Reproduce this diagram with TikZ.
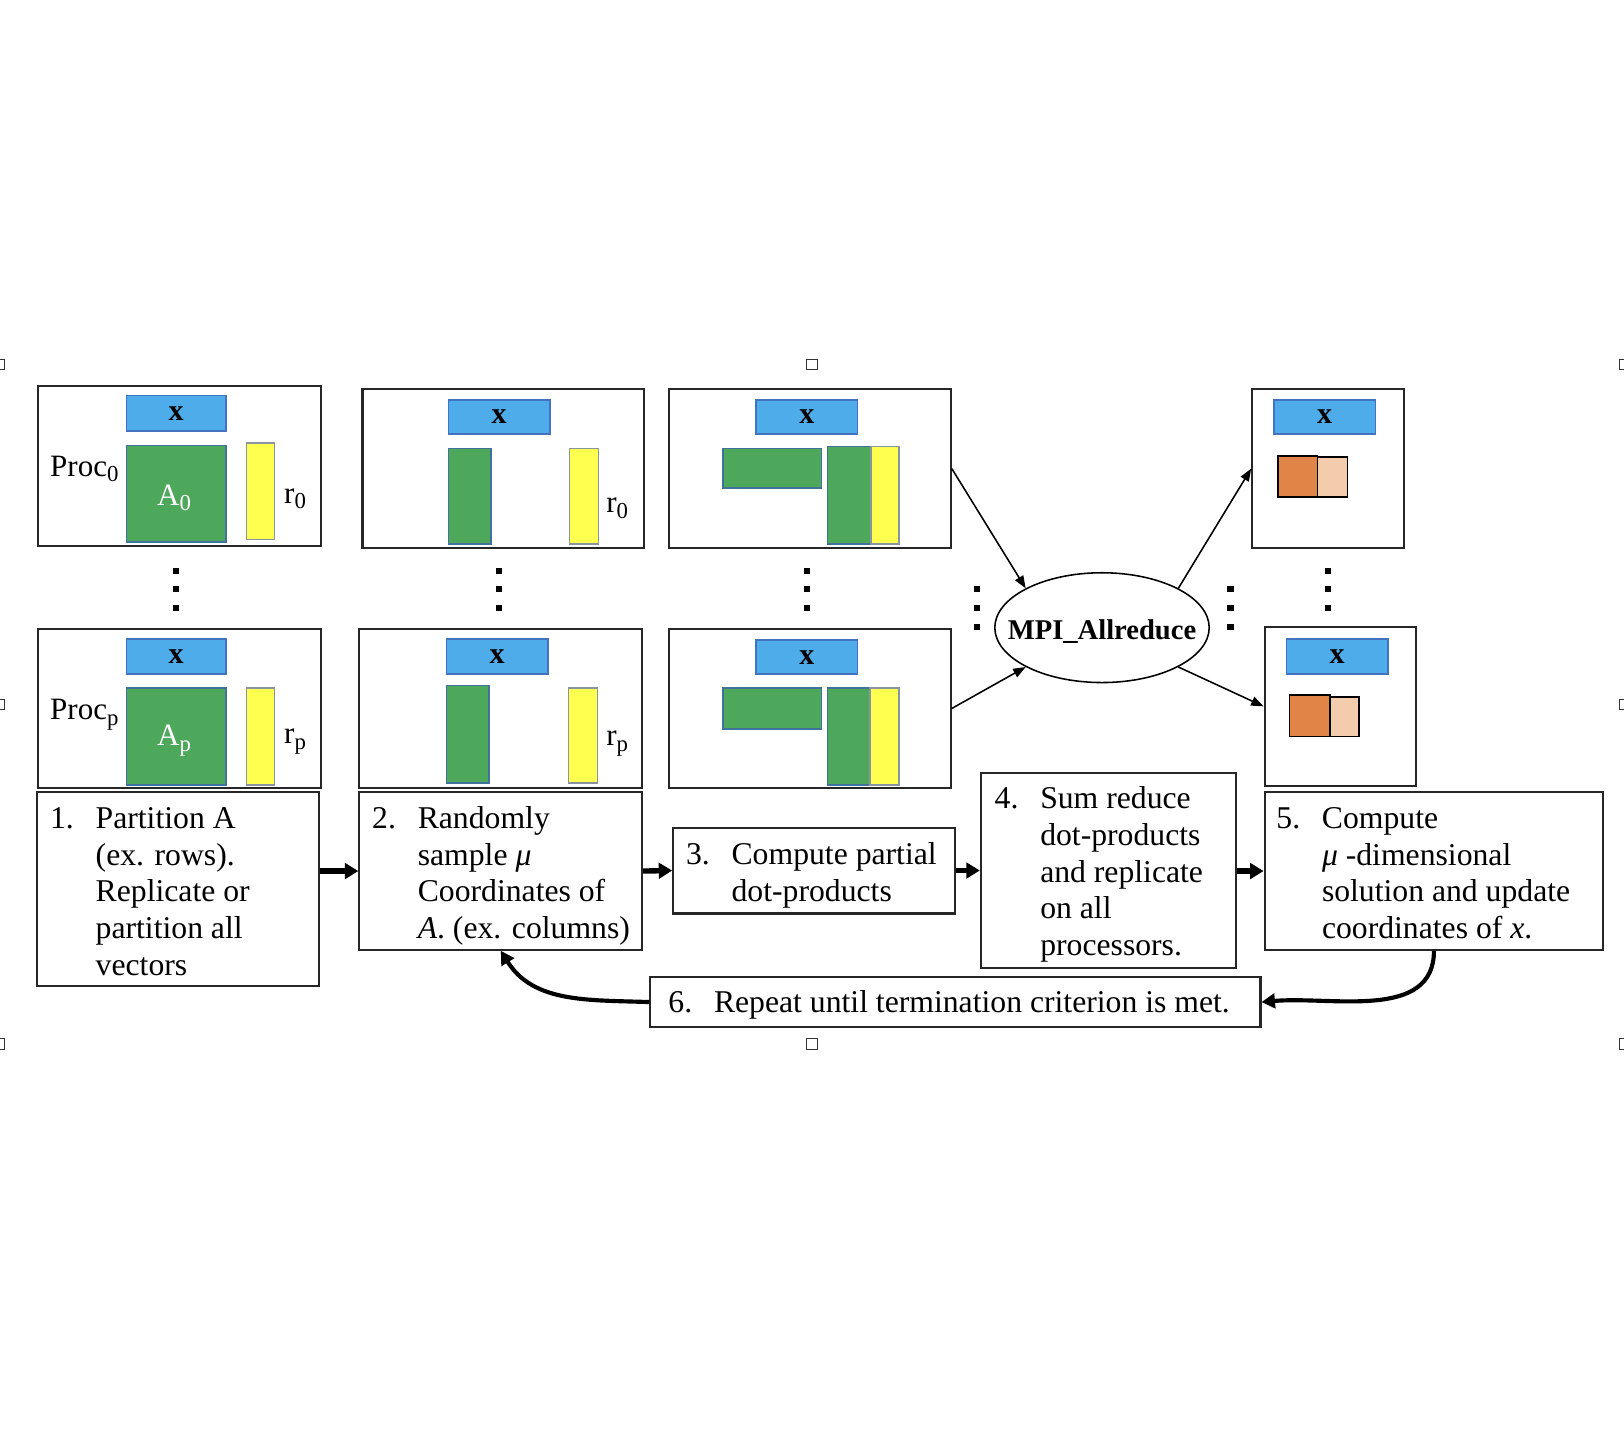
\documentclass[tikz,border=0pt]{standalone}
\usepackage{fontspec}
\setmainfont{Liberation Serif}
\usetikzlibrary{shapes.geometric,arrows.meta}
\definecolor{xblue}{HTML}{4DACE9}
\definecolor{xblueb}{HTML}{4372C0}
\definecolor{mgreen}{HTML}{4EA85B}
\definecolor{mgreenb}{HTML}{41729C}
\definecolor{myellow}{HTML}{FFFF50}
\definecolor{myellowb}{HTML}{8A93A0}
\definecolor{morange}{HTML}{E08448}
\definecolor{mpeach}{HTML}{F2CCAC}
\newcommand{\rectnode}[7][]{%
  \pgfmathsetmacro\rnw{(#5-#3)*0.5}%
  \pgfmathsetmacro\rnh{(#6-#4)*0.5}%
  \node[#1, minimum width=\rnw pt, minimum height=\rnh pt, inner sep=0pt] (#2) at ({(#3+#5)/2},{(#4+#6)/2}) {#7};%
}
\newcommand{\subs}[1]{\raisebox{-2.6pt}{\fontsize{11}{11}\selectfont #1}}
\newcommand{\steptext}[2]{\parbox[t]{320pt}{\fontsize{15.3}{17.7}\selectfont\hangindent=22pt\hangafter=1\noindent\makebox[22pt][l]{#1}#2}}
\tikzset{
  panel/.style={draw=black!85, line width=1pt, fill=white},
  stepbox/.style={draw=black!85, line width=1pt, fill=white},
  xbar/.style={fill=xblue, draw=xblueb, line width=0.8pt, font=\fontsize{14.5}{14.5}\selectfont\bfseries},
  gbox/.style={fill=mgreen, draw=mgreenb, line width=0.8pt},
  ybox/.style={fill=myellow, draw=myellowb, line width=0.8pt},
  obox/.style={fill=morange, draw=black, line width=0.8pt},
  pbox/.style={fill=mpeach, draw=black, line width=0.8pt},
  lbl/.style={inner sep=0pt, anchor=base west, font=\fontsize{15}{15}\selectfont},
  alabel/.style={inner sep=0pt, anchor=base, text=white, font=\fontsize{15}{15}\selectfont},
  steplbl/.style={inner sep=0pt, anchor=base west},
  thinarrow/.style={draw=black, line width=0.75pt, -{Triangle[length=6pt,width=4.5pt]}},
  thickarrow/.style={draw=black, line width=2.6pt, -{Triangle[length=6.5pt,width=7.5pt]}},
  curvearrow/.style={draw=black, line width=2pt, -{Triangle[length=6.5pt,width=7pt]}},
  handle/.style={draw=black!80, line width=0.5pt, fill=white, minimum size=5pt, inner sep=0pt},
  dotsq/.style={fill=black, minimum size=3pt, inner sep=0pt}
}
\begin{document}
\begin{tikzpicture}[x=0.5pt,y=-0.5pt]
\useasboundingbox (0,0) rectangle (1568,1392);
\fill[white] (0,0) rectangle (1568,1392);

% selection handles
\node[handle] (h1) at (-1,352) {};
\node[handle] (h2) at (784,352) {};
\node[handle] (h3) at (1569,352) {};
\node[handle] (h4) at (-1,680) {};
\node[handle] (h5) at (1569,680) {};
\node[handle] (h6) at (-1,1008) {};
\node[handle] (h7) at (784,1008) {};
\node[handle] (h8) at (1569,1008) {};

% panels
\rectnode[panel]{a1}{37}{373}{310}{527}{}
\rectnode[panel]{a2}{37}{607}{310}{761}{}
\rectnode[panel]{b1}{350}{376}{622}{529}{}
\rectnode[panel]{b2}{347}{607}{620}{761}{}
\rectnode[panel]{c1}{646}{376}{918}{529}{}
\rectnode[panel]{c2}{646}{607}{918}{761}{}
\rectnode[panel]{e1}{1209}{376}{1356}{529}{}
\rectnode[panel]{e2}{1221}{605}{1367}{759}{}

% column 1
\rectnode[xbar]{a1x}{122}{382}{218}{416}{x}
\rectnode[gbox]{a1g}{122}{430}{218}{523}{}
\rectnode[ybox]{a1y}{238}{428}{265}{521}{}
\node[alabel] (a1A) at (168,488) {A\subs{0}};
\node[lbl] (a1P) at (48,460) {Proc\subs{0}};
\node[lbl] (a1r) at (274,486) {r\subs{0}};

\rectnode[xbar]{a2x}{122}{617}{218}{651}{x}
\rectnode[gbox]{a2g}{122}{664}{218}{758}{}
\rectnode[ybox]{a2y}{238}{664}{265}{758}{}
\node[alabel] (a2A) at (168,720) {A\subs{p}};
\node[lbl] (a2P) at (48,695) {Proc\subs{p}};
\node[lbl] (a2r) at (274,718) {r\subs{p}};

% column 2
\rectnode[xbar]{b1x}{433}{386}{531}{419}{x}
\rectnode[gbox]{b1g}{433}{433}{474}{525}{}
\rectnode[ybox]{b1y}{550}{433}{578}{525}{}
\node[lbl] (b1r) at (585,495) {r\subs{0}};

\rectnode[xbar]{b2x}{431}{617}{529}{651}{x}
\rectnode[gbox]{b2g}{431}{662}{472}{756}{}
\rectnode[ybox]{b2y}{549}{664}{577}{756}{}
\node[lbl] (b2r) at (585,720) {r\subs{p}};

% column 3
\rectnode[xbar]{c1x}{730}{386}{828}{419}{x}
\rectnode[gbox]{c1h}{698}{433}{793}{471}{}
\rectnode[gbox]{c1v}{799}{431}{841}{525}{}
\rectnode[ybox]{c1y}{841}{431}{868}{525}{}

\rectnode[xbar]{c2x}{730}{618}{828}{651}{x}
\rectnode[gbox]{c2h}{698}{664}{793}{704}{}
\rectnode[gbox]{c2v}{799}{664}{840}{758}{}
\rectnode[ybox]{c2y}{840}{664}{868}{758}{}

% column 5
\rectnode[xbar]{e1x}{1230}{386}{1328}{419}{x}
\rectnode[obox]{e1o}{1234}{440}{1272}{480}{}
\rectnode[pbox]{e1p}{1272}{441}{1301}{480}{}

\rectnode[xbar]{e2x}{1242}{617}{1340}{651}{x}
\rectnode[obox]{e2o}{1245}{671}{1284}{711}{}
\rectnode[pbox]{e2p}{1284}{673}{1312}{711}{}

% vertical dots
\foreach \cx/\nm in {170/a,482/b,779/c,1282/e}{
  \foreach \cy/\k in {551/1,569/2,587/3}{
    \node[dotsq] (d\nm\k) at (\cx,\cy) {};
  }
}
\foreach \cx/\nm in {943/l,1188/r}{
  \foreach \cy/\k in {569/1,587/2,605/3}{
    \node[dotsq] (d\nm\k) at (\cx,\cy) {};
  }
}

% MPI ellipse
\node[ellipse, draw=black, line width=0.75pt, minimum width=103.5pt, minimum height=53pt, inner sep=0pt] (mpi) at (1064,606) {};
\node[inner sep=0pt, anchor=base, font=\fontsize{13.8}{13.8}\selectfont\bfseries] (mpit) at (1064,617) {MPI\_Allreduce};

\draw[thinarrow] (c1.east) -- (mpi.north west);
\draw[thinarrow] (c2.east) -- (mpi.south west);
\draw[thinarrow] (mpi.north east) -- (e1.west);
\draw[thinarrow] (mpi.south east) -- (e2.west);

% step boxes
\rectnode[stepbox]{s1}{36}{765}{308}{952}{}
\rectnode[stepbox]{s2}{347}{765}{620}{917}{}
\rectnode[stepbox]{s3}{650}{799}{922}{882}{}
\rectnode[stepbox]{s4}{947}{746}{1193}{935}{}
\rectnode[stepbox]{s5}{1221}{765}{1548}{917}{}
\rectnode[stepbox]{s6}{628}{943}{1217}{992}{}

\node[steplbl] (t1) at (48,800) {\steptext{1.}{Partition A\\(ex. rows).\\Replicate or\\partition all\\vectors}};
\node[steplbl] (t2) at (359,800) {\steptext{2.}{Randomly\\sample \textit{μ}\\Coordinates of\\\textit{A}. (ex. columns)}};
\node[steplbl] (t3) at (662,835) {\steptext{3.}{Compute partial\\dot-products}};
\node[steplbl] (t4) at (960,781) {\steptext{4.}{Sum reduce\\dot-products\\and replicate\\on all\\processors.}};
\node[steplbl] (t5) at (1232,800) {\steptext{5.}{Compute\\\textit{μ} -dimensional\\solution and update\\coordinates of \textit{x}.}};
\node[steplbl] (t6) at (645,978) {\steptext{6.}{Repeat until termination criterion is met.}};

\draw[thickarrow] (s1.east |- s2.west) -- (s2.west);
\draw[thickarrow] (s2.east) -- (s3.west);
\draw[thickarrow] (s3.east) -- (s4.west |- s3.east);
\draw[thickarrow] (s4.east |- s5.west) -- (s5.west);

\draw[curvearrow] (s6.west) to[out=178, in=-58] (s2.south);
\draw[curvearrow] (s5.south) to[out=-90, in=5] (s6.east);
\end{tikzpicture}
\end{document}
